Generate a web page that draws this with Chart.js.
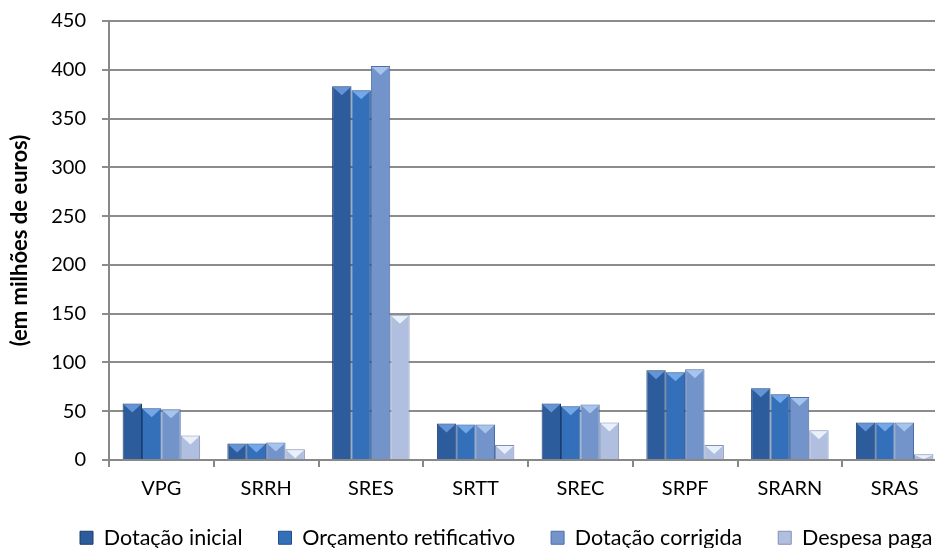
<!DOCTYPE html>
<html>
<head>
<meta charset="utf-8">
<script src="https://cdn.jsdelivr.net/npm/chart.js@4/dist/chart.umd.min.js"></script>
<style>
  html, body { margin: 0; padding: 0; background: #fff; overflow: hidden; }
  #wrap { width: 950px; height: 548px; position: relative; }
</style>
</head>
<body>
<div id="wrap"><canvas id="myChart" width="950" height="548"></canvas></div>
<script>
// categories and values (em milhões de euros)
const categories = ["VPG", "SRRH", "SRES", "SRTT", "SREC", "SRPF", "SRARN", "SRAS"];
const dotacaoInicial = [58, 17, 383, 37.5, 58, 92, 73.5, 38.5];
const orcamentoRetificativo = [53, 17, 379, 36.5, 55, 90, 67.5, 38.5];
const dotacaoCorrigida = [52, 18, 404, 36.5, 57, 93, 64.5, 38.5];
const despesaPaga = [25, 11, 149, 15.5, 38.5, 15.5, 30.5, 6];
const yTicks = [0, 50, 100, 150, 200, 250, 300, 350, 400, 450];

const seriesNames = ["Dotação inicial", "Orçamento retificativo", "Dotação corrigida", "Despesa paga"];
const seriesData = [dotacaoInicial, orcamentoRetificativo, dotacaoCorrigida, despesaPaga];
// dark edge, middle, light edge, bevel highlight for each series
const palette = [
  ['#1c3d6b', '#2d5c9c', '#244f88', '#6d9ee0'],
  ['#1f4d8c', '#346fba', '#2c62a8', '#7fb2f0'],
  ['#4d6da5', '#7393cb', '#6484bd', '#b0cdf2'],
  ['#8190b2', '#b0bfdf', '#9fafd2', '#f4f8ff']
];

const LEGEND_H = 37;

function barGradient(ctx, i) {
  const el = ctx.element;
  const chart = ctx.chart;
  if (!el || !chart.chartArea || !el.width || isNaN(el.x)) return palette[i][1];
  const w = el.width;
  const g = chart.ctx.createLinearGradient(el.x - w / 2, 0, el.x + w / 2, 0);
  g.addColorStop(0, palette[i][0]);
  g.addColorStop(0.45, palette[i][1]);
  g.addColorStop(1, palette[i][2]);
  return g;
}

const datasets = seriesData.map((vals, i) => ({
  label: seriesNames[i],
  data: vals,
  backgroundColor: ctx => barGradient(ctx, i),
  borderColor: palette[i][0],
  borderWidth: 1,
  categoryPercentage: 0.74,
  barPercentage: 1.0
}));

// little bevel triangle on top of each bar; legend kept on one row and moved
const bevel = {
  id: 'bevel',
  beforeLayout(chart) {
    const lg = chart.legend;
    if (lg && !lg._squeezed) {
      const fit = lg.fit.bind(lg);
      lg.fit = function () {
        const w = this.maxWidth;
        this.maxWidth = 3000;
        fit();
        this.maxWidth = w;
        this.width = w;
        this.height = LEGEND_H;
      };
      lg._squeezed = true;
    }
  },
  afterLayout(chart) {
    chart.legend.left = 44;
    chart.legend.right = 3000;
    chart.legend.top = 491;
  },
  afterDatasetsDraw(chart) {
    const c = chart.ctx;
    chart.data.datasets.forEach((ds, i) => {
      chart.getDatasetMeta(i).data.forEach(bar => {
        const w = bar.width;
        const h = Math.min(9, Math.abs(bar.base - bar.y));
        c.save();
        c.fillStyle = palette[i][3];
        c.globalAlpha = 0.85;
        c.beginPath();
        c.moveTo(bar.x - w / 2 + 1, bar.y + 1);
        c.lineTo(bar.x + w / 2 - 1, bar.y + 1);
        c.lineTo(bar.x, bar.y + h);
        c.closePath();
        c.fill();
        c.restore();
      });
    });
  }
};

new Chart(document.getElementById('myChart').getContext('2d'), {
  type: 'bar',
  data: { labels: categories, datasets: datasets },
  plugins: [bevel],
  options: {
    responsive: false,
    animation: false,
    layout: { padding: { top: 21, left: 0, right: 3, bottom: 0 } },
    plugins: {
      legend: {
        position: 'bottom',
        align: 'start',
        labels: {
          font: { family: 'Lato', size: 21.5 },
          color: '#000',
          boxWidth: 13,
          boxHeight: 13,
          padding: 36,
          generateLabels(chart) {
            return seriesNames.map((n, i) => ({
              text: n,
              fillStyle: palette[i][1],
              strokeStyle: palette[i][0],
              lineWidth: 1,
              datasetIndex: i
            }));
          }
        }
      },
      tooltip: { enabled: false }
    },
    scales: {
      x: {
        grid: { offset: true, drawOnChartArea: false, drawTicks: true, tickLength: 7, color: '#888', lineWidth: 2 },
        border: { color: '#888', width: 2 },
        ticks: { font: { family: 'Lato', size: 20 }, color: '#000', padding: 10 }
      },
      y: {
        min: 0,
        max: 450,
        afterBuildTicks: axis => { axis.ticks = yTicks.map(v => ({ value: v })); },
        afterFit: axis => {
          axis.width = 109;
          axis.paddingTop = 0;
          axis.paddingBottom = 0;
        },
        grid: { color: '#8c8c8c', lineWidth: 2, tickLength: 7 },
        border: { color: '#888', width: 2 },
        ticks: { font: { family: 'Lato', size: 20 }, color: '#000', padding: 16 },
        title: {
          display: true,
          text: '(em milhões de euros)',
          font: { family: 'Lato', size: 22, weight: 'bold' },
          color: '#000',
          padding: { top: 7, bottom: 0 }
        }
      }
    }
  }
});
</script>
</body>
</html>
